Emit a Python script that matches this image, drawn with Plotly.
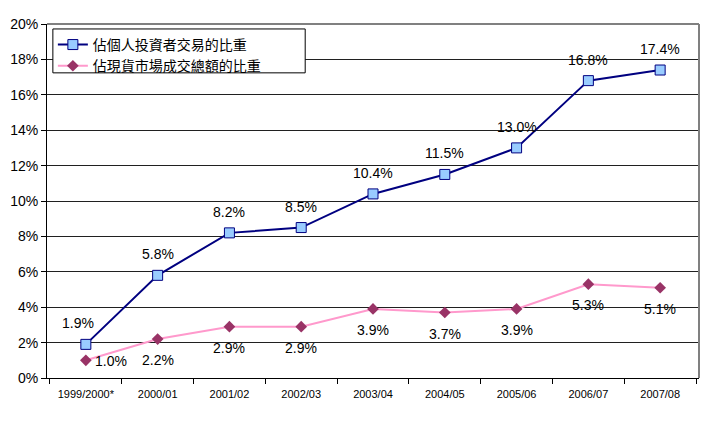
import plotly.graph_objects as go

years = ["1999/2000*", "2000/01", "2001/02", "2002/03", "2003/04",
         "2004/05", "2005/06", "2006/07", "2007/08"]
retail_share = [1.9, 5.8, 8.2, 8.5, 10.4, 11.5, 13.0, 16.8, 17.4]
turnover_share = [1.0, 2.2, 2.9, 2.9, 3.9, 3.7, 3.9, 5.3, 5.1]

name_retail = "佔個人投資者交易的比重"
name_turnover = "佔現貨市場成交總額的比重"

label_font = dict(family="Liberation Sans, Arial, sans-serif", size=14, color="black")

fig = go.Figure()

fig.add_trace(go.Scatter(
    x=years, y=retail_share, name=name_retail,
    mode="lines+markers",
    line=dict(color="#000080", width=2),
    marker=dict(symbol="square", size=10, color="#99CCFF",
                line=dict(color="#000080", width=1)),
))

fig.add_trace(go.Scatter(
    x=years, y=turnover_share, name=name_turnover,
    mode="lines+markers",
    line=dict(color="#FF99CC", width=2),
    marker=dict(symbol="diamond", size=9, color="#993366"),
))

# data labels: blue above the points, pink below (first ones nudged sideways)
for i, (yr, v) in enumerate(zip(years, retail_share)):
    fig.add_annotation(x=yr, y=v, text="%.1f%%" % v, showarrow=False,
                       font=label_font, yshift=21, xshift=-8 if i == 0 else 0)
for i, (yr, v) in enumerate(zip(years, turnover_share)):
    if i == 0:
        fig.add_annotation(x=yr, y=v, text="%.1f%%" % v, showarrow=False,
                           font=label_font, xshift=25, yshift=-1)
    else:
        fig.add_annotation(x=yr, y=v, text="%.1f%%" % v, showarrow=False,
                           font=label_font, yshift=-21)

# page body has an 8px margin, so the figure is a bit smaller than the window
fig.update_layout(
    width=700, height=416,
    margin=dict(l=39, r=9, t=16, b=46),
    paper_bgcolor="white", plot_bgcolor="white",
    showlegend=True,
    legend=dict(x=0.009, y=0.986, xanchor="left", yanchor="top",
                borderwidth=0, bgcolor="rgba(0,0,0,0)",
                font=dict(family="Noto Sans CJK TC", size=14, color="black"),
                tracegroupgap=0, itemwidth=30),
)

fig.update_xaxes(
    type="category", showgrid=False, automargin=False, tickangle=0,
    showline=True, linecolor="black", linewidth=1, mirror=False,
    ticks="outside", ticklen=5, tickcolor="black",
    tickson="boundaries", ticklabelstandoff=6,
    tickfont=dict(family="Liberation Sans, Arial, sans-serif", size=11, color="black"),
)

fig.update_yaxes(
    range=[0, 20], dtick=2, ticksuffix="%", automargin=False,
    showgrid=True, gridcolor="#202020", gridwidth=1,
    showline=True, linecolor="black", linewidth=1,
    ticks="outside", ticklen=5, tickcolor="black",
    tickfont=dict(family="Liberation Sans, Arial, sans-serif", size=14, color="black"),
)

# grey frame at the top and right of the plot area
fig.add_shape(type="line", xref="paper", yref="paper", x0=0, x1=1, y0=1, y1=1,
              line=dict(color="#808080", width=2))
fig.add_shape(type="line", xref="paper", yref="paper", x0=1, x1=1, y0=0, y1=1,
              line=dict(color="#808080", width=2))

# legend box (wider than plotly's own legend frame)
fig.add_shape(type="rect", xref="paper", yref="paper", layer="above",
              x0=0.009, x1=0.396, y0=0.862, y1=0.986,
              fillcolor="white", line=dict(color="black", width=1))

fig.write_html("out.html")
